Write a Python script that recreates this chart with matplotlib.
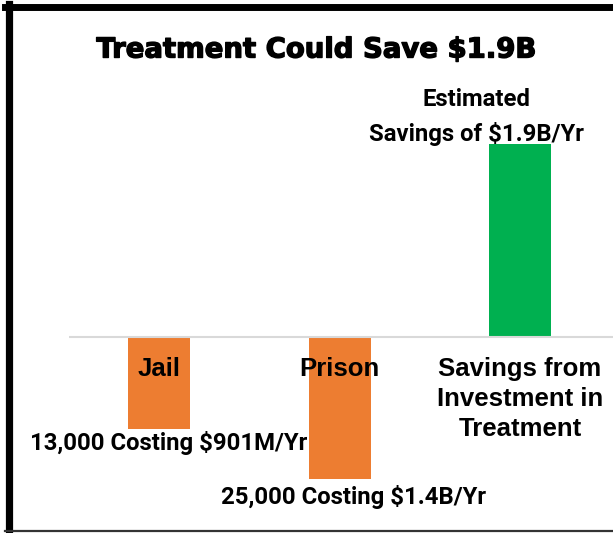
import matplotlib
matplotlib.use("Agg")
import matplotlib.pyplot as plt
from matplotlib.lines import Line2D
import matplotlib.patheffects as pe

categories = ["Jail", "Prison", "Savings from\nInvestment in\nTreatment"]
values = [-901, -1400, 1900]
colors = ["#ED7D31", "#ED7D31", "#00B050"]
data_labels = ["13,000 Costing $901M/Yr", "25,000 Costing $1.4B/Yr",
               "Estimated\nSavings of $1.9B/Yr"]
title = "Treatment Could Save $1.9B"

W, H = 613, 533
fig = plt.figure(figsize=(W / 100, H / 100), dpi=100)
ax = fig.add_axes([69 / W, 23.3 / H, 544 / W, 406.4 / H])
x = list(range(len(categories)))
ax.bar(x, values, width=0.345, color=colors, zorder=2)
ax.set_xlim(-0.5, 2.515)
ax.set_ylim(-1700, 2300)
ax.axhline(0, color="#d9d9d9", lw=1.5, zorder=3)
for s in ax.spines.values():
    s.set_visible(False)
ax.set_xticks([])
ax.set_yticks([])
ax.patch.set_alpha(0)

# category labels
for xi, c in zip(x, categories):
    ax.text(xi, -195, c, ha="center", va="top", fontsize=18.5,
            fontweight="bold", family="Liberation Sans", linespacing=1.33,
            zorder=4)

# data labels
lab_font = dict(fontsize=17.2, fontweight="bold", family="Roboto", zorder=4)
ax.text(0.054, -1043, data_labels[0], ha="center", va="center", **lab_font)
ax.text(1.079, -1575, data_labels[1], ha="center", va="center", **lab_font)
ax.text(1.76, 2165, data_labels[2], ha="center", va="center",
        linespacing=1.58, clip_on=False, **lab_font)

fig.text(316 / W, 1 - 49.5 / H, title, ha="center", va="center",
         fontsize=19.8, fontweight="bold", family="DejaVu Sans",
         path_effects=[pe.withStroke(linewidth=1.0, foreground="black")])

# frame
fig.add_artist(Line2D([8.5 / W, 8.5 / W], [0, 1 - 4 / H], color="black",
                      lw=5.2, transform=fig.transFigure))
fig.add_artist(Line2D([5 / W, 1], [1 - 7 / H, 1 - 7 / H], color="black",
                      lw=5.0, transform=fig.transFigure))
fig.add_artist(Line2D([5 / W, 1], [1 - 530.5 / H, 1 - 530.5 / H],
                      color="#333333", lw=1.6, transform=fig.transFigure))

fig.savefig("out.png", dpi=100)
